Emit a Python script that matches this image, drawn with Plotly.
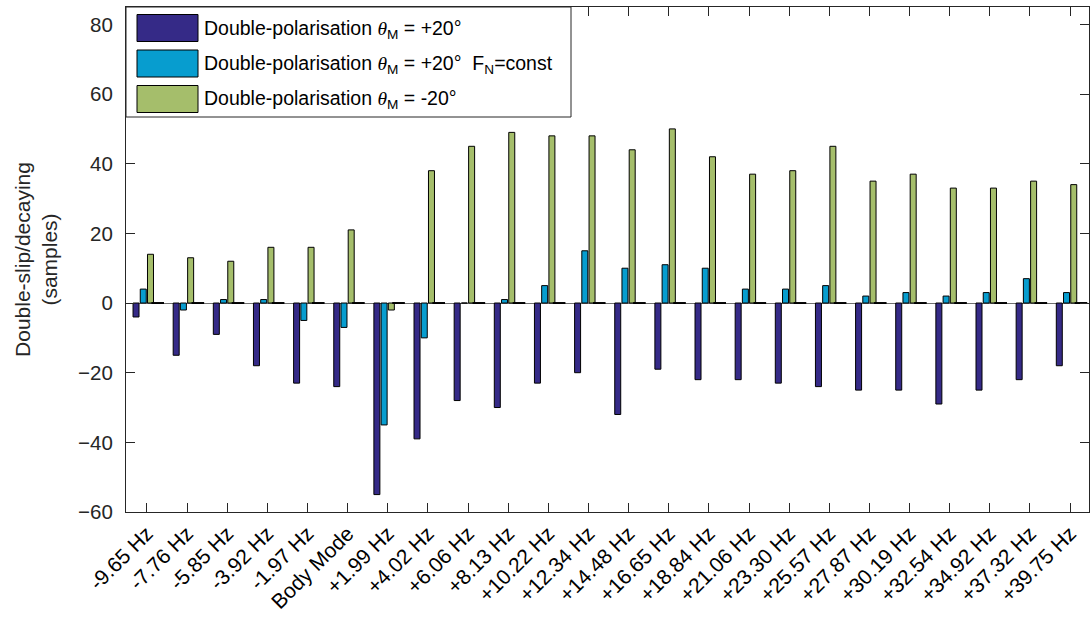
import plotly.graph_objects as go

# Mode frequencies relative to the body mode
categories = ["-9.65 Hz", "-7.76 Hz", "-5.85 Hz", "-3.92 Hz", "-1.97 Hz", "Body Mode",
              "+1.99 Hz", "+4.02 Hz", "+6.06 Hz", "+8.13 Hz", "+10.22 Hz", "+12.34 Hz",
              "+14.48 Hz", "+16.65 Hz", "+18.84 Hz", "+21.06 Hz", "+23.30 Hz", "+25.57 Hz",
              "+27.87 Hz", "+30.19 Hz", "+32.54 Hz", "+34.92 Hz", "+37.32 Hz", "+39.75 Hz"]

# Double-slip/decaying difference in samples
pos20 = [-4, -15, -9, -18, -23, -24, -55, -39, -28, -30, -23, -20,
         -32, -19, -22, -22, -23, -24, -25, -25, -29, -25, -22, -18]
pos20_fn = [4, -2, 1, 1, -5, -7, -35, -10, 0, 1, 5, 15,
            10, 11, 10, 4, 4, 5, 2, 3, 2, 3, 7, 3]
neg20 = [14, 13, 12, 16, 16, 21, -2, 38, 45, 49, 48, 48,
         44, 50, 42, 37, 38, 45, 35, 37, 33, 33, 35, 34]
extra = [0] * len(categories)

THETA = "<span style='font-family:Liberation Serif, serif'><i>θ</i></span>"
series_names = [
    f"Double-polarisation {THETA}<sub>M</sub> = +20°",
    f"Double-polarisation {THETA}<sub>M</sub> = +20° &nbsp;F<sub>N</sub>=const",
    f"Double-polarisation {THETA}<sub>M</sub> = -20°",
]
series_values = [pos20, pos20_fn, neg20]
series_colors = ["#352a87", "#079dcf", "#a5be6b"]

yticks = [-60, -40, -20, 0, 20, 40, 60, 80]

FONT = "Liberation Sans, Arial, sans-serif"
AXC = "#262626"
W, H = 1090, 617
ML, MR, MT, MB = 126, 1, 7, 105
PW, PH = W - ML - MR, H - MT - MB

idx = list(range(len(categories)))
BARGAP = 0.28
slot = (1 - BARGAP) / 4

fig = go.Figure()
for name, vals, col in zip(series_names, series_values, series_colors):
    fig.add_trace(go.Bar(x=idx, y=vals, name=name, marker=dict(color=col, line=dict(color="black", width=1)),
                         showlegend=False))
# fourth (empty) series: zero-height bars show only their edge
fig.add_trace(go.Bar(x=idx, y=[None] * len(idx), showlegend=False, hoverinfo="skip",
                     marker=dict(color="rgba(0,0,0,0)")))
fig.add_trace(go.Scatter(x=[i + 1.5 * slot for i in idx], y=extra, mode="markers", showlegend=False,
                         marker=dict(symbol="line-ew", size=9, line=dict(color="black", width=2))))

# legend box
def px(x):
    return x / PW

def py(y):
    return 1 - y / PH

shapes = [dict(type="rect", xref="paper", yref="paper", x0=px(0), x1=px(445), y0=py(110), y1=py(0),
               fillcolor="white", line=dict(color=AXC, width=1), layer="above")]
annotations = []
for k, (name, col) in enumerate(zip(series_names, series_colors)):
    cy = 21 + 35.5 * k
    shapes.append(dict(type="rect", xref="paper", yref="paper", x0=px(11), x1=px(72),
                       y0=py(cy + 13.5), y1=py(cy - 13.5), fillcolor=col,
                       line=dict(color="black", width=1), layer="above"))
    annotations.append(dict(xref="paper", yref="paper", x=px(76), y=py(cy + 1), xanchor="left", yanchor="middle",
                            text=name, showarrow=False, font=dict(family=FONT, size=19.5, color="black")))

fig.update_layout(
    width=W, height=H,
    margin=dict(l=ML, r=MR, t=MT, b=MB),
    paper_bgcolor="white", plot_bgcolor="white",
    barmode="group", bargap=BARGAP, bargroupgap=0.17,
    font=dict(family=FONT, size=20, color=AXC),
    shapes=shapes, annotations=annotations,
)
fig.update_xaxes(
    range=[-0.52, 23.47], tickvals=idx, ticktext=categories, tickangle=-45,
    ticks="inside", ticklen=9, tickcolor=AXC, showline=True, linecolor=AXC, linewidth=1,
    mirror="ticks", showgrid=False, zeroline=False, tickfont=dict(size=21, color="black"),
)
fig.update_yaxes(
    range=[-60, 85], tickvals=yticks, ticks="inside", ticklen=9, tickcolor=AXC,
    showline=True, linecolor=AXC, linewidth=1, mirror="ticks", showgrid=False,
    zeroline=True, zerolinecolor="#707070", zerolinewidth=1,
    tickfont=dict(size=20.5, color=AXC), ticklabelstandoff=8,
    title=dict(text="Double-slip/decaying<br>(samples)", font=dict(size=21, color=AXC), standoff=14),
)

fig.write_html("out.html")
